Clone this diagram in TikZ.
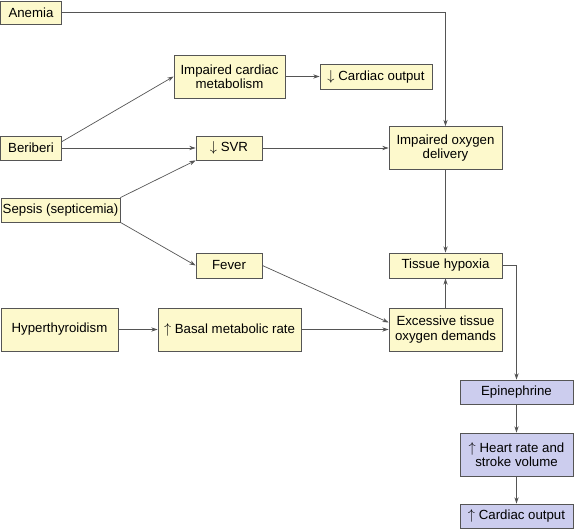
\documentclass[tikz,border=0pt]{standalone}
\usepackage{fontspec}
\setmainfont{Liberation Sans}
\usepackage{tikz}
\usetikzlibrary{arrows.meta, positioning}
\definecolor{cCause}{RGB}{253,249,204}
\definecolor{cResp}{RGB}{204,205,238}
\definecolor{cEdge}{RGB}{85,85,85}
\tikzset{
	causebox/.style={rectangle, draw=cEdge, line width=0.8bp, fill=cCause, align=center, inner sep=1bp, font=\fontsize{13.3}{14.5}\selectfont},
	respbox/.style ={causebox, fill=cResp},
	link/.style    ={-{Stealth[length=2.2mm, width=1.5mm]}, draw=cEdge, line width=0.7bp},
}
\begin{document}
\begin{tikzpicture}[x=1bp, y=-1bp]
	\useasboundingbox (0,0) rectangle (574,529);
	% left column: causes
	\node[causebox, minimum width=61bp, minimum height=23bp] (anemia) at (31,12.5) {Anemia};
	\node[causebox, minimum width=61bp, minimum height=24bp] (beriberi) at (31,148) {Beriberi};
	\node[causebox, minimum width=119bp, minimum height=24bp] (sepsis) at (60.5,210) {Sepsis (septicemia)};
	\node[causebox, minimum width=117bp, minimum height=43bp] (hyper) at (59.5,329.5) {Hyperthyroidism};
	% middle column
	\node[causebox, minimum width=111bp, minimum height=43bp] (icm) at (229.5,76.5) {Impaired cardiac\\metabolism};
	\node[causebox, minimum width=112bp, minimum height=25bp] (lowco) at (376,76.5) {$\downarrow$ Cardiac output};
	\node[causebox, minimum width=66bp, minimum height=24bp] (svr) at (229,148) {$\downarrow$ SVR};
	\node[causebox, minimum width=66bp, minimum height=25bp] (fever) at (229,265.5) {Fever};
	\node[causebox, minimum width=143bp, minimum height=43bp] (bmr) at (229.5,329.5) {$\uparrow$ Basal metabolic rate};
	% right column
	\node[causebox, minimum width=113bp, minimum height=43bp] (iod) at (445.5,148) {Impaired oxygen\\delivery};
	\node[causebox, minimum width=113bp, minimum height=25bp] (hypoxia) at (445.5,265.5) {Tissue hypoxia};
	\node[causebox, minimum width=113bp, minimum height=43bp] (demand) at (445.5,329.5) {Excessive tissue\\oxygen demands};
	% compensation
	\node[respbox, minimum width=113bp, minimum height=24bp] (epi) at (516.5,392) {Epinephrine};
	\node[respbox, minimum width=113bp, minimum height=43bp] (hrsv) at (516.5,454.5) {$\uparrow$ Heart rate and\\stroke volume};
	\node[respbox, minimum width=113bp, minimum height=24bp] (highco) at (516.5,516) {$\uparrow$ Cardiac output};
	% connectors
	\draw[link] (anemia.east) -| (iod.north);
	\draw[link] ([yshift=-6bp]beriberi.north east) -- (icm.west);
	\draw[link] (beriberi.east) -- (svr.west);
	\draw[link] (sepsis.north east) -- (svr.south west);
	\draw[link] (sepsis.south east) -- (fever.west);
	\draw[link] (hyper.east) -- (bmr.west);
	\draw[link] (icm.east) -- (lowco.west);
	\draw[link] (svr.east) -- (iod.west);
	\draw[link] (fever.east) -- ([yshift=7bp]demand.west);
	\draw[link] (bmr.east) -- (demand.west);
	\draw[link] (iod.south) -- (hypoxia.north);
	\draw[link] (demand.north) -- (hypoxia.south);
	\draw[link] (hypoxia.east) -| (epi.north);
	\draw[link] (epi.south) -- (hrsv.north);
	\draw[link] (hrsv.south) -- (highco.north);
\end{tikzpicture}
\end{document}
